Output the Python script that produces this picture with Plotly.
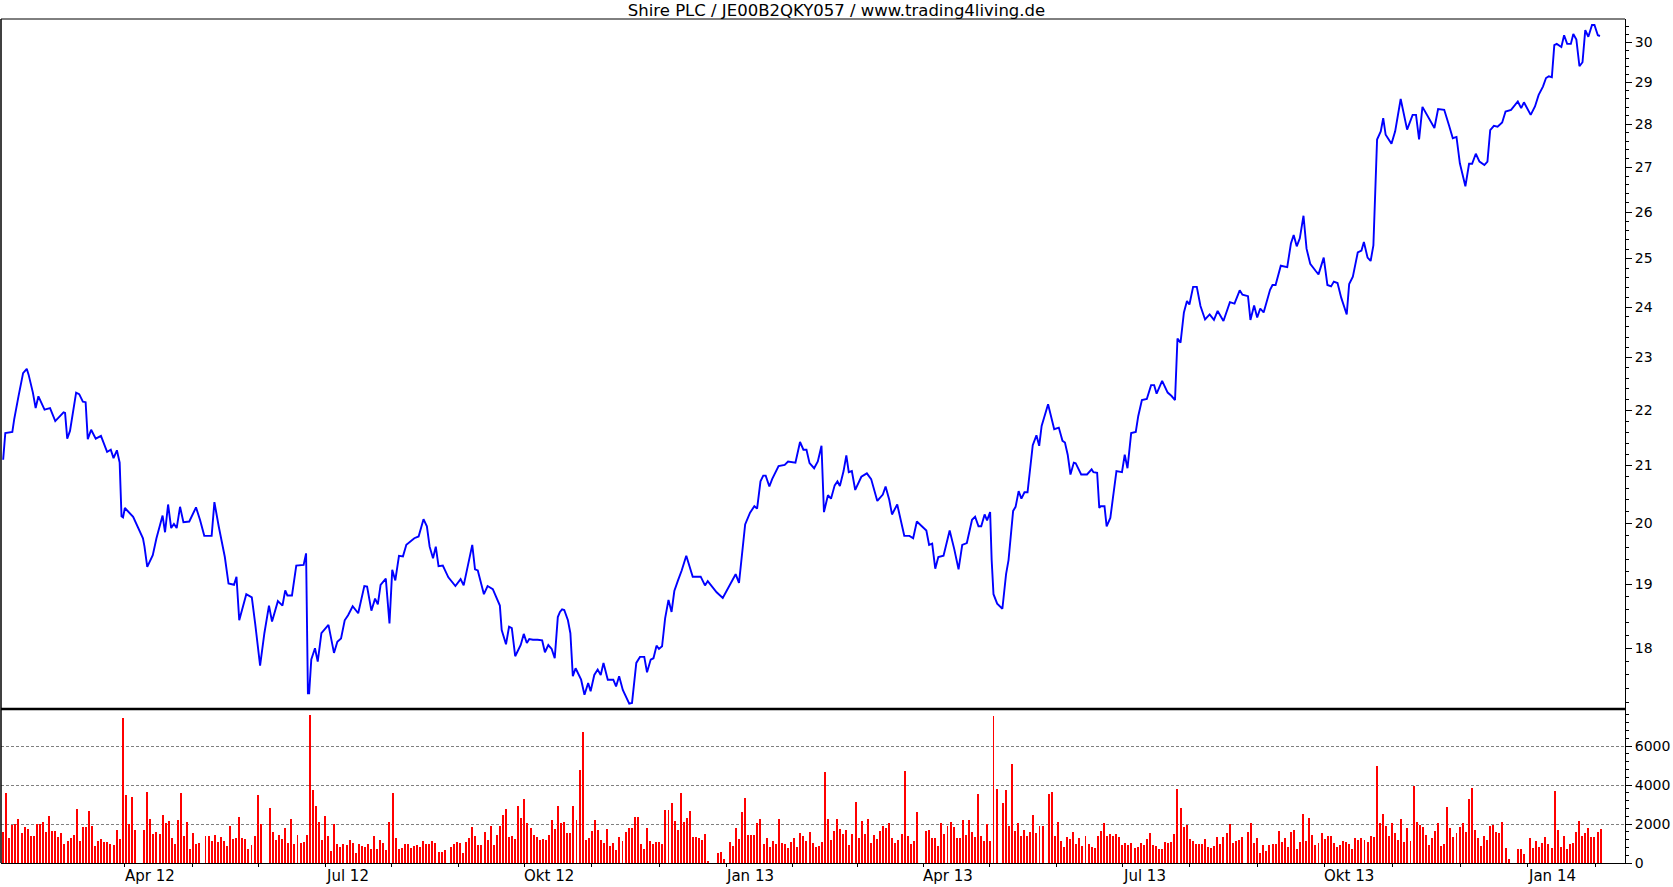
import plotly.graph_objects as go

TITLE = "Shire PLC / JE00B2QKY057 / www.trading4living.de"

# trading-day position of each read vertex of the price line, and price (EUR)
price_day = [0.0,0.7,3.0,3.6,5.0,6.5,7.7,8.3,9.7,10.6,11.5,13.5,15.3,17.0,19.7,20.2,20.9,21.8,23.8,24.8,26.0,26.9,27.6,28.7,30.2,31.9,33.9,35.1,36.0,37.1,38.0,38.6,39.1,39.7,42.4,43.8,45.6,46.1,47.0,48.8,50.0,52.0,52.8,53.8,54.8,55.7,56.6,57.7,58.8,60.7,62.9,64.2,65.6,68.0,68.9,70.3,72.3,73.5,75.3,76.1,77.0,79.3,81.1,82.2,83.8,85.2,86.7,87.7,89.6,91.1,92.0,92.7,94.2,95.6,98.0,98.8,99.4,99.8,100.5,101.7,102.6,103.8,106.1,107.9,109.0,110.2,111.4,112.5,114.0,115.8,117.8,118.7,120.1,121.3,122.2,123.1,124.8,126.0,126.9,127.9,129.1,130.4,131.5,134.1,135.5,137.1,138.2,139.1,140.2,141.1,142.0,143.4,145.2,147.5,149.2,150.2,151.8,153.0,153.9,154.8,156.8,158.0,159.7,160.9,162.0,162.6,164.0,165.0,165.9,167.0,168.8,169.8,170.8,171.6,172.8,174.3,175.8,176.7,177.8,178.9,179.9,180.9,181.6,
             182.3,183.0,184.2,185.0,185.8,186.7,188.5,189.6,190.8,191.6,192.8,193.9,194.9,195.8,197.2,199.0,199.9,200.9,202.1,203.6,204.2,205.1,206.5,207.7,209.1,210.0,211.2,212.1,213.1,213.9,214.9,215.9,217.0,218.0,218.9,220.1,221.3,222.8,223.8,224.9,227.5,228.9,229.8,232.7,234.7,236.8,238.9,240.0,241.2,242.0,243.6,245.0,245.9,247.0,247.9,248.7,249.9,250.8,252.9,254.9,256.0,258.4,259.9,261.0,262.0,263.0,264.5,265.7,266.9,267.7,269.0,270.0,271.2,272.1,272.9,274.1,275.0,275.8,276.8,277.9,279.9,281.7,283.1,285.1,286.9,287.8,289.0,289.9,291.6,293.0,293.9,295.6,296.8,298.0,301.1,302.0,303.0,304.0,305.0,306.7,308.7,310.2,311.6,312.8,314.3,316.0,317.0,318.1,319.0,320.1,320.9,321.9,322.4,323.0,324.2,325.9,327.1,327.9,328.6,329.4,330.2,331.2,332.1,333.1,334.1,335.8,337.0,337.9,338.7,339.7,340.8,342.8,344.3,345.5,346.3,347.2,348.1,349.2,349.8,351.6,353.5,355.0,355.6,356.8,357.5,
             358.0,359.2,359.9,361.1,361.9,363.1,364.9,365.8,366.7,367.9,369.4,370.2,371.4,373.0,374.4,375.4,376.2,378.0,379.8,381.0,382.2,382.5,383.0,384.0,385.1,386.1,386.9,388.1,389.3,390.5,392.0,393.5,394.9,396.1,398.0,400.1,401.6,403.3,404.2,406.0,406.8,408.0,409.0,410.0,411.1,413.2,414.0,
             415.0,416.7,418.8,420.0,420.9,421.9,422.9,424.1,425.1,426.3,428.1,429.0,430.7,431.9,433.1,434.0,435.2,436.4,438.2,439.0,440.2,441.8,443.0,443.8,445.0,446.0,446.9,447.4,448.1,449.3,450.1,450.9,452.8,454.0,455.8,457.9,459.7,460.8,461.8,462.9,464.1,466.8,468.0,470.0,471.6,472.8,474.0,475.1,476.9,478.1,479.1,480.3,481.5,483.1,484.1,485.0,486.2,487.4,488.9,490.0,491.8,494.0,495.1,496.0,498.2,499.6,500.8,502.2,503.2,504.1,505.1,505.9,506.7,508.2,509.1,510.1,511.3,512.1,513.1,514.1,515.1,516.0,517.0,518.2,519.0,520.1,520.8]
price = [21.10,21.58,21.60,21.83,22.26,22.70,22.78,22.67,22.33,22.04,22.26,22.01,22.04,21.80,21.96,21.95,21.48,21.62,22.33,22.30,22.16,22.15,21.47,21.64,21.48,21.53,21.24,21.28,21.13,21.27,21.05,20.12,20.10,20.26,20.11,19.95,19.75,19.61,19.28,19.47,19.75,20.13,19.85,20.32,19.92,19.99,19.92,20.28,20.02,20.03,20.27,20.06,19.79,19.79,20.36,19.95,19.44,19.01,18.99,19.12,18.43,18.84,18.79,18.38,17.74,18.23,18.66,18.41,18.73,18.66,18.90,18.82,18.82,19.30,19.31,19.50,17.33,17.33,17.83,18.00,17.80,18.23,18.36,17.93,18.10,18.15,18.43,18.51,18.65,18.54,18.97,18.96,18.58,18.77,18.68,18.99,19.09,18.38,19.23,19.06,19.46,19.45,19.64,19.75,19.78,20.07,19.95,19.61,19.42,19.61,19.29,19.30,19.11,18.97,19.08,18.98,19.38,19.64,19.24,19.22,18.84,18.97,18.92,18.79,18.66,18.28,18.06,18.33,18.31,17.88,18.05,18.22,18.08,18.14,18.13,18.13,18.12,17.94,18.05,17.99,17.85,18.48,18.56,
         18.60,18.59,18.43,18.23,17.58,17.70,17.53,17.31,17.48,17.36,17.60,17.68,17.60,17.78,17.53,17.53,17.43,17.58,17.38,17.23,17.18,17.19,17.78,17.87,17.87,17.64,17.83,17.85,18.04,17.99,18.03,18.46,18.75,18.56,18.89,19.06,19.22,19.46,19.29,19.12,19.12,18.98,19.05,18.87,18.78,18.98,19.16,19.02,19.62,19.98,20.18,20.29,20.25,20.72,20.82,20.82,20.63,20.76,20.99,21.01,21.07,21.05,21.42,21.28,21.28,21.04,20.95,21.07,21.35,20.19,20.48,20.42,20.65,20.72,20.64,20.90,21.18,20.88,20.90,20.57,20.80,20.86,20.76,20.38,20.49,20.63,20.40,20.15,20.32,19.97,19.79,19.79,19.75,20.03,19.88,19.64,19.66,19.25,19.44,19.46,19.88,19.57,19.24,19.64,19.67,20.06,20.11,19.95,19.95,20.15,20.05,20.19,19.39,18.84,18.69,18.61,19.16,19.39,19.72,20.21,20.28,20.55,20.42,20.53,20.53,21.36,21.54,21.35,21.71,21.92,22.11,21.65,21.68,21.44,21.41,21.19,20.84,21.05,21.04,20.84,20.84,20.93,20.88,20.87,20.26,
         20.29,20.29,19.95,20.09,20.41,20.90,20.88,21.19,20.95,21.58,21.60,21.89,22.19,22.21,22.47,22.47,22.31,22.55,22.33,22.27,22.19,22.58,23.37,23.29,23.89,24.12,24.05,24.41,24.41,24.02,23.75,23.85,23.74,23.92,23.72,24.10,24.07,24.34,24.25,24.22,23.74,24.03,23.79,23.97,23.89,24.35,24.45,
         24.45,24.85,24.82,25.32,25.50,25.26,25.43,25.92,25.21,24.89,24.74,24.67,25.02,24.45,24.42,24.52,24.49,24.19,23.85,24.47,24.62,25.13,25.17,25.35,25.02,24.95,25.28,26.42,27.64,27.83,28.14,27.75,27.54,27.83,28.60,27.87,28.22,28.22,27.64,28.41,28.26,27.91,28.36,28.34,27.96,27.67,27.70,27.09,26.57,27.08,27.08,27.31,27.13,27.05,27.13,27.86,27.96,27.94,28.04,28.30,28.34,28.54,28.38,28.52,28.22,28.42,28.70,28.90,29.11,29.15,29.13,29.93,29.96,29.88,30.18,29.96,29.96,30.21,30.07,29.40,29.50,30.31,30.14,30.44,30.44,30.18,30.16]

# daily volume (shares), one value per trading day; 0 = no turnover
volume = [1570,3600,1260,1970,2020,2270,1560,1860,1760,1400,
          1400,2020,1980,2120,1570,2430,1660,1660,1350,1560,
          990,1150,1300,1450,2790,1150,1860,1860,2680,1910,
          890,1150,1250,1090,1090,990,940,1710,1250,7450,
          3500,1980,3400,1710,0,0,1710,3660,2270,1500,
          1610,1500,2480,2070,2170,1300,990,2220,3600,1400,
          2120,735,1560,990,1040,0,1400,1400,1150,1450,
          1090,1350,1150,890,1910,1250,1300,2380,1300,1250,
          735,940,1400,3500,2020,0,0,2840,1610,1200,
          1450,1250,1810,1040,2270,990,1450,1040,1090,1450,
          7600,3760,2940,2120,1200,2430,1400,630,2020,990,
          840,990,940,1200,1040,530,990,890,840,990,
          735,1400,735,1200,1040,680,2120,3600,1300,735,
          790,990,990,790,890,940,840,1150,990,990,
          1150,1040,580,580,680,0,840,990,1090,1040,
          530,1090,1300,1860,1400,940,940,1610,1200,1910,
          940,1450,1910,2480,2790,1350,1400,1250,2940,2320,
          3300,2070,1810,1450,1350,1200,1250,1200,1450,2220,
          1760,2940,
          2070,2120,1560,1560,2940,2220,4790,6740,1200,1300,
          1660,2220,1710,1200,1040,1760,890,1040,680,1350,
          1150,1610,1810,1810,2380,2380,990,735,1810,1150,
          990,1090,1090,990,2730,2730,3090,2170,1710,3600,
          2120,2320,2680,1350,1350,1300,1200,1500,120,0,
          0,530,580,220,0,1090,890,1810,1250,2630,
          3350,1450,1450,1450,2070,2270,990,1300,840,1150,
          990,2270,1040,990,790,1090,1300,840,1560,1400,
          1150,1610,1040,840,890,1090,4680,2270,1200,1660,
          2270,1760,1500,1710,940,1500,3150,1300,2170,1500,
          2270,1040,1450,1250,1660,1910,1810,2070,1300,1040,
          1200,1500,4730,1400,990,1150,2630,0,0,1660,
          1710,1300,1300,890,2070,1500,1910,2120,1860,1300,
          1300,2220,1450,2220,1610,1350,3560,1400,1150,2020,
          1150,7560,3810,0,3090,3760,1910,5090,1660,2070,
          1400,1710,1400,1610,2480,1560,1910,1910,0,3560,
          3660,1400,2120,1150,840,1350,1250,1610,990,1300,
          890,1400,990,840,790,1400,
          1660,2070,1400,1500,1400,1500,1350,940,1040,940,
          1040,790,840,1040,940,1250,1560,940,890,735,
          735,1090,1040,1090,1500,3810,2840,1860,1970,1250,
          1150,990,990,990,1250,840,790,890,1350,990,
          1350,1560,2020,1040,1150,1200,1350,0,1610,2070,
          1040,1300,530,940,630,940,990,990,1660,1090,
          1300,840,1610,1710,735,1090,2530,1150,2320,1450,
          940,1040,1560,1250,1400,1400,1040,840,940,1150,
          1090,990,735,1300,1200,1300,1200,1090,1400,1350,
          4990,2070,2530,1910,1400,2070,1560,1200,2270,1090,
          1810,1150,3970,2120,1970,1860,1450,940,1300,1660,
          2070,890,990,2890,1810,1350,1560,1860,2070,1610,
          3300,3860,1710,1300,890,1400,1200,1910,1970,1610,
          1560,2120,790,220,0,0,735,735,480,0,
          1300,790,1150,840,1040,1350,990,790,3710,1710,
          840,1400,735,990,1040,1610,2170,1400,1560,1810,
          1350,1350,1610,1760]

# month starts (trading-day position) and their labels
month_pos = [39.7,61.6,83.3,105.2,126.8,148.5,170.0,192.0,214.0,235.9,257.4,278.5,
             300.1,321.6,343.5,365.1,386.9,409.1,430.9,453.2,475.2,497.2,519.3]
month_labels = ["Apr 12","","","Jul 12","","","Okt 12","","","Jan 13","","",
                "Apr 13","","","Jul 13","","","Okt 13","","","Jan 14",""]

price_ticks = list(range(18, 31))
volume_ticks = [0, 2000, 4000, 6000]

W, H = 1673, 887
XD = [1 / W, 1625 / W]
P_TOP = 1 - 19 / H
P_BOT = 1 - 709 / H
V_BOT = 1 - 863 / H
XR = [-0.7, 528.96]

FONT = dict(family="DejaVu Sans, Verdana, sans-serif", size=14, color="black")

fig = go.Figure()
fig.add_trace(go.Scatter(x=price_day, y=price, mode="lines",
                         line=dict(color="#0000ff", width=1.9),
                         xaxis="x", yaxis="y", showlegend=False, hoverinfo="skip"))
fig.add_trace(go.Bar(x=list(range(len(volume))), y=volume, width=0.32,
                     marker=dict(color="#ff0000", line=dict(width=0)),
                     xaxis="x2", yaxis="y2", showlegend=False, hoverinfo="skip"))

minor_price = [round(v / 10, 1) for v in range(172, 306, 2) if v % 10 != 0]

fig.update_layout(
    template="none",
    width=W, height=H, autosize=False, margin=dict(l=0, r=0, t=0, b=0, pad=0, autoexpand=False),
    paper_bgcolor="white", plot_bgcolor="white", font=FONT,
    bargap=0,
    xaxis=dict(domain=XD, range=XR, anchor="y", showticklabels=False, ticks="",
               showline=False, showgrid=False, zeroline=False, automargin=False),
    yaxis=dict(domain=[P_BOT, P_TOP], type="log", automargin=False,
               range=[1.23305, 1.48565], side="right", anchor="x",
               tickmode="array", tickvals=price_ticks, ticktext=[str(v) for v in price_ticks],
               ticks="outside", ticklen=6, tickcolor="black", tickwidth=1,
               showline=True, linecolor="black", linewidth=1,
               showgrid=False, zeroline=False, tickfont=FONT,
               minor=dict(tickmode="array", tickvals=minor_price, ticks="outside",
                          ticklen=3, tickcolor="black", tickwidth=1, showgrid=False)),
    xaxis2=dict(domain=XD, range=XR, anchor="y2", automargin=False,
                tickmode="array", tickvals=month_pos, ticktext=[""] * len(month_pos),
                ticks="outside", ticklen=3, tickcolor="black", tickwidth=1,
                showline=True, linecolor="black", linewidth=1,
                showgrid=False, zeroline=False),
    yaxis2=dict(domain=[V_BOT, P_BOT], range=[0, 7900], side="right", anchor="x2",
                automargin=False,
                tickmode="array", tickvals=volume_ticks,
                ticks="outside", ticklen=6, tickcolor="black", tickwidth=1,
                showline=True, linecolor="black", linewidth=1,
                showgrid=True, gridcolor="#808080", griddash="3px,2px", gridwidth=1,
                zeroline=False, tickfont=FONT,
                minor=dict(tick0=0, dtick=400, ticks="outside", ticklen=3, tickcolor="black",
                           tickwidth=1, showgrid=False)),
    title=dict(text=TITLE, x=0.5, xanchor="center", xref="paper",
               y=1 - 10 / H, yanchor="middle", font=dict(FONT, size=16.5)),
)

# panel borders
fig.add_shape(type="line", xref="paper", yref="paper", x0=XD[0], x1=XD[1], y0=P_TOP, y1=P_TOP,
              line=dict(color="black", width=1))
fig.add_shape(type="line", xref="paper", yref="paper", x0=XD[0], x1=XD[0], y0=V_BOT, y1=P_TOP,
              line=dict(color="black", width=1.5))
fig.add_shape(type="line", xref="paper", yref="paper", x0=XD[0], x1=XD[1], y0=P_BOT, y1=P_BOT,
              line=dict(color="black", width=2.5))

for pos, lab in zip(month_pos, month_labels):
    if lab:
        fig.add_annotation(x=pos, xref="x2", y=V_BOT, yref="paper", text=lab,
                           showarrow=False, xanchor="left", yanchor="top",
                           yshift=-2, xshift=-2, font=dict(FONT, size=15))

PAGE_JS = ("var d=document.documentElement,b=document.body;"
           "[d,b].forEach(function(e){e.style.margin='0';e.style.padding='0';"
           "e.style.overflow='hidden';});")

fig.write_html("out.html",
               config={"displayModeBar": False, "responsive": False},
               post_script=PAGE_JS)
